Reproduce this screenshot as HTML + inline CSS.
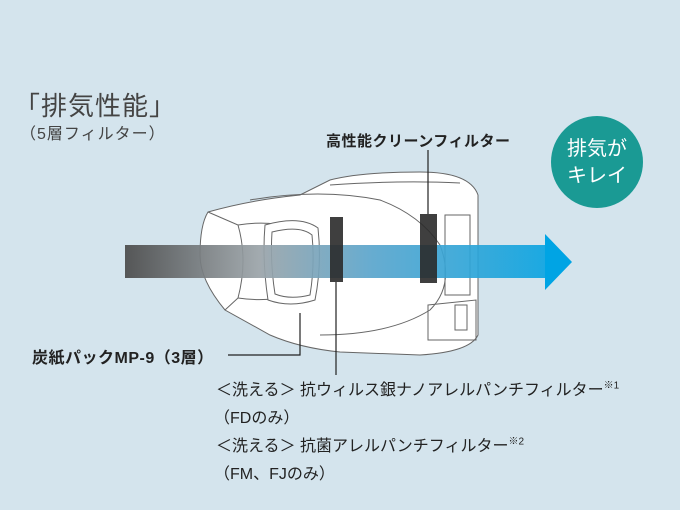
<!DOCTYPE html>
<html><head><meta charset="utf-8"><style>
body{margin:0;width:680px;height:510px;background:#d4e4ed;overflow:hidden;position:relative;font-family:"Liberation Sans","Noto Sans CJK JP",sans-serif;color:#333}
.t{position:absolute;white-space:nowrap}
</style></head><body>
<svg width="680" height="510" style="position:absolute;left:0;top:0">
<defs>
<linearGradient id="g" x1="125" x2="572" gradientUnits="userSpaceOnUse">
<stop offset="0" stop-color="#4a4a4a"/><stop offset="0.3" stop-color="#9aa3a8"/><stop offset="0.55" stop-color="#5aa5cc"/><stop offset="1" stop-color="#00a4e4"/></linearGradient>
</defs>
<g fill="#fff" stroke="#666" stroke-width="1">
<path d="M330 180 Q360 172 420 172 Q470 172 478 195 L478 335 Q470 352 420 355 L340 352 Q300 348 270 335 L225 310 Q200 280 200 255 Q200 225 208 212 Q250 200 300 195 Z"/>
<path d="M208 212 L238 225 Q248 260 238 298 L225 310" fill="none"/>
<path d="M238 225 Q270 220 290 228 Q298 262 290 296 Q265 302 238 298" fill="none"/>
<path d="M265 225 Q300 215 318 228 Q322 265 315 300 Q290 308 268 300 Q262 260 265 225 Z"/>
<path d="M272 232 Q300 225 312 235 Q315 265 310 295 Q290 300 275 294 Q270 262 272 232 Z" fill="none"/>
<path d="M250 200 Q320 188 380 200 Q420 215 440 245 Q455 285 430 310 Q390 335 320 335" fill="none"/>
<path d="M330 185 Q400 180 460 183" fill="none"/>
<path d="M445 215 L470 215 L470 295 L445 295 Z" fill="none"/>
<path d="M428 305 L476 300 L476 340 L428 340 Z" fill="none"/>
<rect x="455" y="305" width="12" height="25" fill="none"/>
</g>
<rect x="125" y="245" width="425" height="33" fill="url(#g)" opacity="0.92"/>
<polygon points="545,234 572,262 545,290" fill="#00a4e4"/>
<rect x="330" y="217" width="13" height="65" fill="#2a2a2a" opacity="0.9"/>
<rect x="420" y="214" width="17" height="69" fill="#2a2a2a" opacity="0.9"/>
<g stroke="#222" stroke-width="1.2" fill="none">
<line x1="428" y1="150" x2="428" y2="214"/>
<line x1="336" y1="282" x2="336" y2="375"/>
<polyline points="300,313 300,355 228,355"/>
</g>
<circle cx="597" cy="162" r="46" fill="#1a9a94"/>
</svg>
<div class="t" style="left:14px;top:86px;font-size:26px;color:#444;letter-spacing:1px">「排気性能」</div>
<div class="t" style="left:20px;top:120px;font-size:16px;color:#444;letter-spacing:1px">（5層フィルター）</div>
<div class="t" style="left:326px;top:130px;font-size:15px;color:#222;font-weight:bold;letter-spacing:0.5px">高性能クリーンフィルター</div>
<div class="t" style="left:567px;top:136px;font-size:20px;color:#fff;line-height:27px;text-align:center">排気が<br>キレイ</div>
<div class="t" style="left:32px;top:344px;font-size:16px;color:#222;font-weight:bold;letter-spacing:0.5px">炭紙パックMP-9（3層）</div>
<div class="t" style="left:216px;top:376px;font-size:16px;color:#222">＜洗える＞ 抗ウィルス銀ナノアレルパンチフィルター<sup style="font-size:10px">※1</sup></div>
<div class="t" style="left:214px;top:404px;font-size:16px;color:#222">（FDのみ）</div>
<div class="t" style="left:216px;top:432px;font-size:16px;color:#222">＜洗える＞ 抗菌アレルパンチフィルター<sup style="font-size:10px">※2</sup></div>
<div class="t" style="left:214px;top:460px;font-size:16px;color:#222">（FM、FJのみ）</div>
</body></html>
